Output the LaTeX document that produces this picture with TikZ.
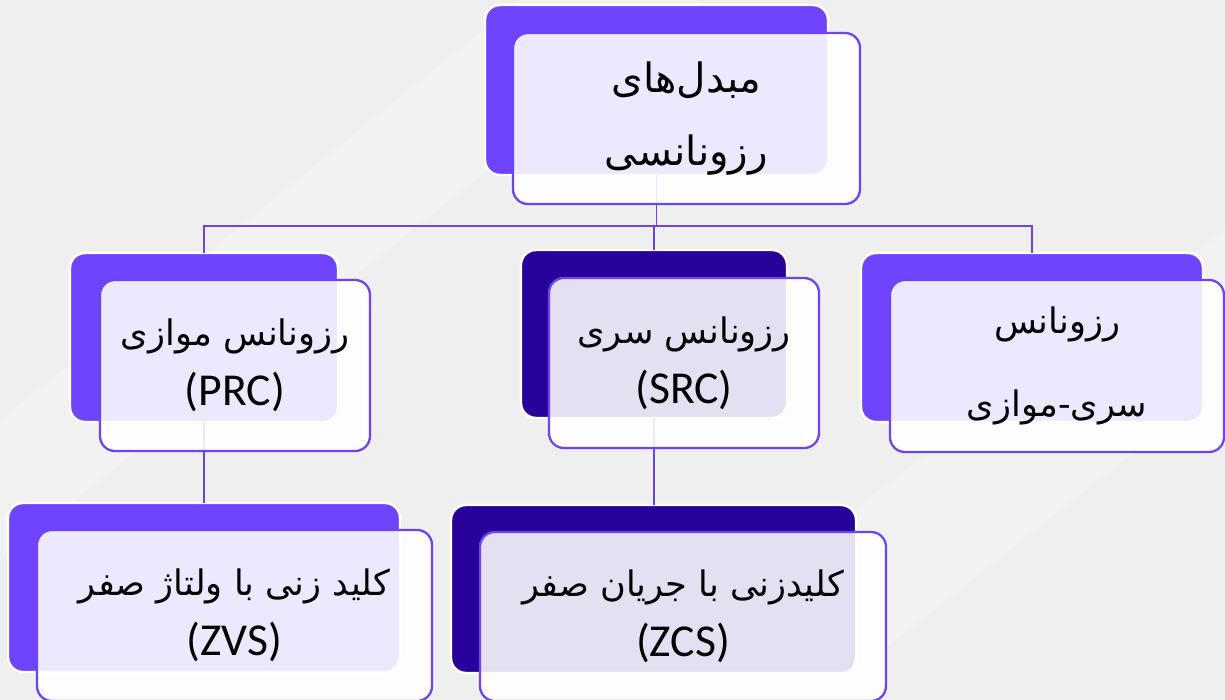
\documentclass[tikz,border=0pt]{standalone}
\usepackage{fontspec}
\setmainfont{Carlito}
\newfontfamily\fa[Script=Arabic]{DejaVu Sans}
\TeXXeTstate=1
\definecolor{bgc}{HTML}{EFEFEF}
\definecolor{lightp}{HTML}{7044FC}
\definecolor{darkp}{HTML}{28009A}
\definecolor{edgep}{HTML}{6B45EE}
\definecolor{linep}{HTML}{6A44E6}
\tikzset{
  sz/.style 2 args={minimum width=#1*0.02cm, minimum height=#2*0.02cm},
  backbox/.style={draw=white, line width=1.4pt, rounded corners=8.5pt, inner sep=0pt, outer sep=0pt, fill=#1},
  frontbox/.style={draw=edgep, line width=1.3pt, rounded corners=8.5pt, inner sep=0pt, outer sep=0pt,
    fill=white, fill opacity=0.88, text opacity=1, align=center, font=\fontsize{20}{34}\selectfont},
  conn/.style={draw=linep, line width=1.1pt},
  band/.style={fill=white, fill opacity=0.2},
}
\newcommand{\lat}[1]{{\fontsize{26}{34}\selectfont #1}}
\begin{document}
\begin{tikzpicture}[x=0.02cm, y=-0.02cm]
\fill[bgc] (0,0) rectangle (1225,700);
\useasboundingbox (0,0) rectangle (1225,700);
% faint diagonal background bands
\fill[band] (0,420) -- (0,560) -- (700,0) -- (520,0) -- cycle;
\fill[band] (600,700) -- (820,700) -- (1225,380) -- (1225,230) -- cycle;
% back boxes
\node[backbox=lightp, sz={343}{170}] (tb) at (656.5,90) {};
\node[backbox=lightp, sz={268}{169}] (pb) at (204,337.5) {};
\node[backbox=darkp, sz={266}{168}] (sb) at (654,334) {};
\node[backbox=lightp, sz={342}{169}] (spb) at (1032,337.5) {};
\node[backbox=lightp, sz={392}{169}] (zvb) at (204,587.5) {};
\node[backbox=darkp, sz={405}{168}] (zcb) at (653.5,589) {};
% connectors
\coordinate (hub) at (655,226);
\draw[conn] (tb.south) -- (tb.south |- hub);
\draw[conn] (pb.north) |- (hub);
\draw[conn] (spb.north) |- (hub);
\draw[conn] (sb.north) -- (sb.north |- hub);
\draw[conn] (pb.south) -- (zvb.north);
\draw[conn] (sb.south) -- (sb.south |- zcb.north);
% front boxes
\node[frontbox, sz={347}{171}, font=\fontsize{23}{34}\selectfont] (tf) at (686.5,118.5)
  {\fa\beginR مبدل‌های\endR\\[8pt]\fa\beginR رزونانسی\endR};
\node[frontbox, sz={270}{171}] (pf) at (235,365.5)
  {\fa\beginR رزونانس موازی\endR\\\lat{(PRC)}};
\node[frontbox, sz={270}{170}] (sf) at (684,363)
  {\fa\beginR رزونانس سری\endR\\\lat{(SRC)}};
\node[frontbox, sz={334}{172}] (spf) at (1057,366)
  {\fa\beginR رزونانس\endR\\[13pt]\fa\beginR سری-موازی\endR};
\node[frontbox, sz={395}{171}] (zvf) at (234.5,615.5)
  {\fa\beginR کلید زنی با ولتاژ صفر\endR\\\lat{(ZVS)}};
\node[frontbox, sz={406}{169}] (zcf) at (683,616.5)
  {\fa\beginR کلیدزنی با جریان صفر\endR\\\lat{(ZCS)}};
\end{tikzpicture}
\end{document}
